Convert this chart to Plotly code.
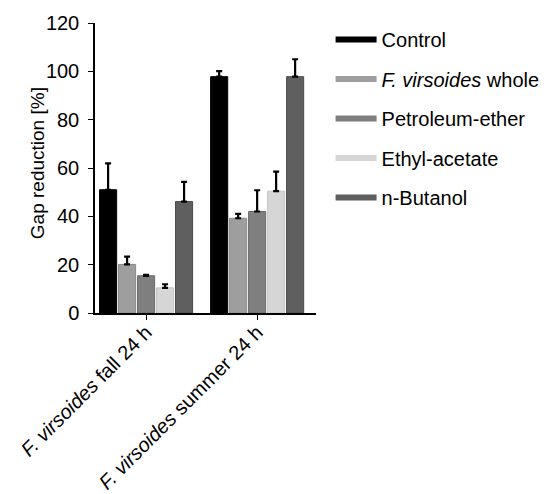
import plotly.graph_objects as go

categories = ["fall", "summer"]
tick_labels = ["<i>F. virsoides</i> fall 24 h", "<i>F. virsoides</i> summer 24 h"]
series_names = ["Control", "<i>F. virsoides</i> whole", "Petroleum-ether", "Ethyl-acetate", "n-Butanol"]
y_title = "Gap reduction [%]"
control = [51.0, 97.8]
whole = [20.1, 39.2]
pet_ether = [15.4, 42.0]
ethyl_acetate = [10.4, 50.4]
n_butanol = [46.1, 97.8]
control_err = [10.9, 2.3]
whole_err = [3.2, 1.8]
pet_ether_err = [0.4, 8.8]
ethyl_acetate_err = [1.5, 8.1]
n_butanol_err = [8.2, 7.2]

values = [control, whole, pet_ether, ethyl_acetate, n_butanol]
errors = [control_err, whole_err, pet_ether_err, ethyl_acetate_err, n_butanol_err]
colors = ["#000000", "#9e9e9e", "#7f7f7f", "#d6d6d6", "#5f5f5f"]
edges = ["#000000", "#8a8a8a", "#6a6a6a", "#c4c4c4", "#4a4a4a"]

fig = go.Figure()
for i, (name, v, e) in enumerate(zip(series_names, values, errors)):
    fig.add_trace(go.Bar(
        x=categories, y=v, name=name, showlegend=False,
        marker=dict(color=colors[i], line=dict(color=edges[i], width=1)),
        error_y=dict(type="data", array=e, arrayminus=[0] * len(e), symmetric=False,
                     color="black", thickness=2.2, width=3),
    ))
for i, name in enumerate(series_names):
    fig.add_trace(go.Scatter(
        x=[None], y=[None], mode="lines", name=name, legendgroup=str(i),
        line=dict(color=colors[i], width=6),
    ))

font = "Liberation Sans, Arial, sans-serif"
# the page body has an 8px margin, so the figure is 8px smaller on each axis
fig.update_layout(
    width=543, height=486,
    margin=dict(l=87, r=235, t=15, b=181, autoexpand=False),
    paper_bgcolor="white", plot_bgcolor="white",
    barmode="group", bargap=0.145, bargroupgap=0.1,
    font=dict(family=font, size=20, color="black"),
    legend=dict(x=1.066, y=1.01, xanchor="left", yanchor="top",
                font=dict(size=20), tracegroupgap=10.5, itemwidth=41),
    xaxis=dict(
        type="category", range=[-0.46, 1.53], automargin=False,
        tickvals=categories, ticktext=tick_labels, tickangle=-45,
        showline=True, linecolor="black", linewidth=1.5,
        ticks="outside", ticklen=5, tickcolor="black", ticklabelstandoff=-7,
        tickfont=dict(size=20), showgrid=False,
    ),
    yaxis=dict(
        range=[0, 120], tickvals=[0, 20, 40, 60, 80, 100, 120], automargin=False,
        showline=True, linecolor="black", linewidth=1.5,
        ticks="outside", ticklen=5, tickcolor="black", ticklabelstandoff=5,
        tickfont=dict(size=20), showgrid=False, zeroline=False,
    ),
    annotations=[dict(
        text=y_title, xref="paper", yref="paper", x=-0.262, y=0.517,
        xanchor="center", yanchor="middle", textangle=-90, showarrow=False,
        font=dict(size=19),
    )],
)
fig.write_html("out.html")
